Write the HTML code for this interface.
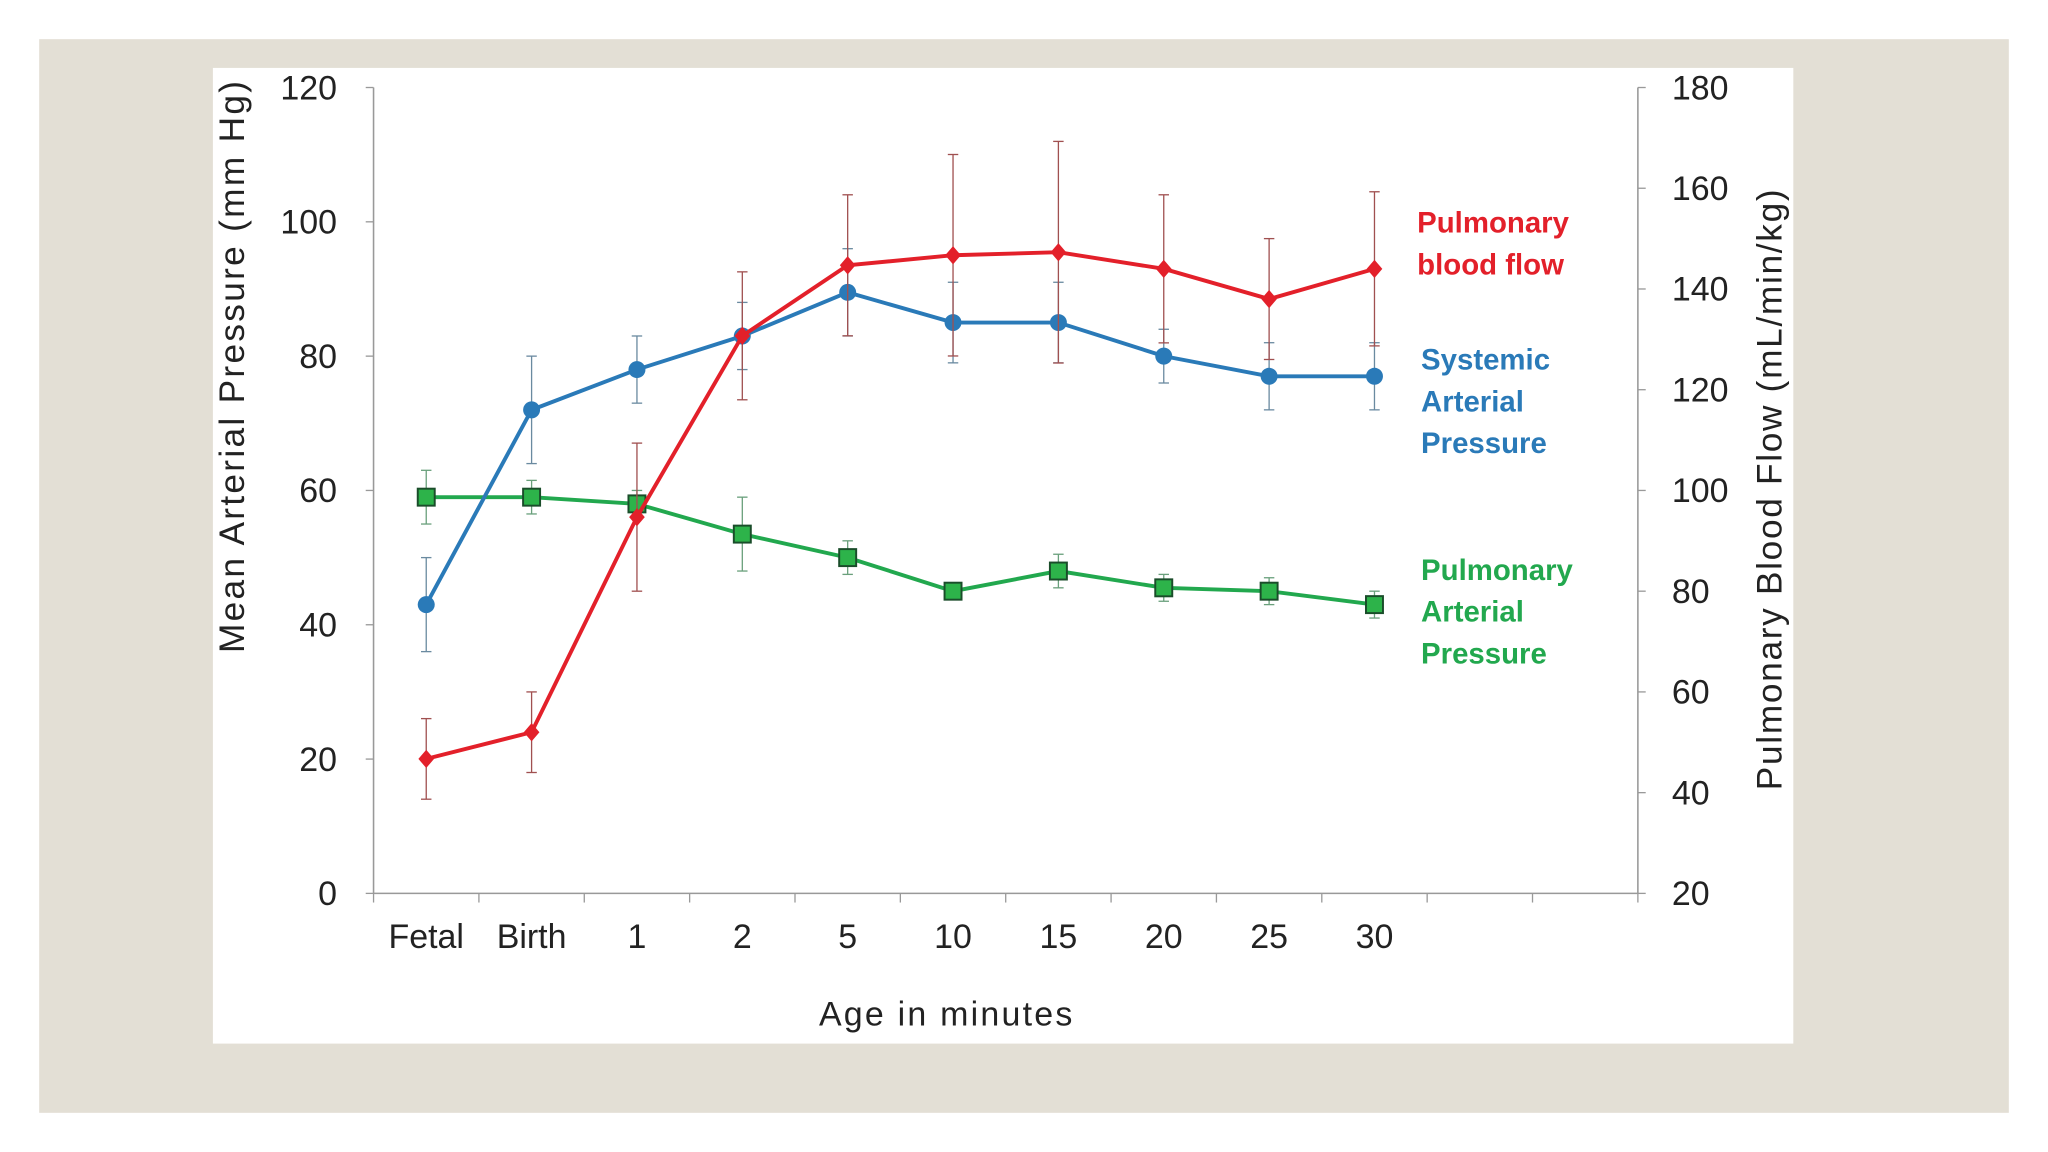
<!DOCTYPE html>
<html><head><meta charset="utf-8"><style>
html,body{margin:0;padding:0;background:#fff;}
svg{display:block;font-family:"Liberation Sans",sans-serif;}
</style></head><body>
<svg id="chart" width="2048" height="1152" viewBox="0 0 1568 882" xmlns="http://www.w3.org/2000/svg">
<rect x="30" y="30" width="1508" height="822" fill="#e3dfd5"/>
<rect x="163" y="52" width="1210" height="747" fill="#ffffff"/>
<g id="axes"></g>
<g id="series"></g>
<text transform="translate(187,281) rotate(-90)" text-anchor="middle" font-size="27" fill="#222" textLength="438" lengthAdjust="spacing">Mean  Arterial Pressure (mm Hg)</text>
<text transform="translate(1364,375) rotate(-90)" text-anchor="middle" font-size="27" fill="#222" textLength="460" lengthAdjust="spacing">Pulmonary  Blood Flow  (mL/min/kg)</text>
<text x="724" y="785" text-anchor="middle" font-size="26" fill="#222" textLength="194" lengthAdjust="spacing">Age in minutes</text>
<g font-size="22.5" font-weight="bold" fill="#e3202a">
<text x="1085" y="178">Pulmonary</text><text x="1085" y="210">blood flow</text></g>
<g font-size="22.5" font-weight="bold" fill="#2a7ab8">
<text x="1088" y="283">Systemic</text><text x="1088" y="315">Arterial</text><text x="1088" y="347">Pressure</text></g>
<g font-size="22.5" font-weight="bold" fill="#22a84e">
<text x="1088" y="444">Pulmonary</text><text x="1088" y="476">Arterial</text><text x="1088" y="508">Pressure</text></g>
</svg>
<script>
const categories=["Fetal","Birth","1","2","5","10","15","20","25","30"];
const leftTicks=[0,20,40,60,80,100,120];
const rightTicks=[20,40,60,80,100,120,140,160,180];
const flowValues=[46.7,52,94.7,130.7,144.7,146.7,147.3,144,138,144];
const flowErr=[8,8,14.7,12.7,14,20,22,14.7,12,15.3];
const sapValues=[43,72,78,83,89.5,85,85,80,77,77];
const sapErr=[7,8,5,5,6.5,6,6,4,5,5];
const papValues=[59,59,58,53.5,50,45,48,45.5,45,43];
const papErr=[4,2.5,2,5.5,2.5,1,2.5,2,2,2];

const NS="http://www.w3.org/2000/svg";
const X0=286,X1=1254,Y0=684,Y1=67,slots=12,sw=(X1-X0)/slots;
const xPos=i=>X0+sw*(i+0.5);
const yL=v=>Y0-(v/120)*(Y0-Y1);
const yR=v=>Y0-((v-20)/160)*(Y0-Y1);
function mk(tag,attrs,parent){const e=document.createElementNS(NS,tag);for(const k in attrs)e.setAttribute(k,attrs[k]);parent.appendChild(e);return e;}
const axes=document.getElementById('axes'),ser=document.getElementById('series');
let l=mk('line',{x1:X0,y1:Y1,x2:X0,y2:Y0,stroke:'#999','stroke-width':1.2},axes);


l=mk('line',{x1:X1,y1:Y1,x2:X1,y2:Y0,stroke:'#999','stroke-width':1.2},axes);


l=mk('line',{x1:X0,y1:Y0,x2:X1,y2:Y0,stroke:'#999','stroke-width':1.2},axes);


leftTicks.forEach(v=>{const y=yL(v);
 mk('line',{x1:X0-6,y1:y,x2:X0,y2:y,stroke:'#999'},axes);
 const t=mk('text',{x:258,y:y+9,'text-anchor':'end','font-size':26,fill:'#222'},axes);t.textContent=v;
 
 });
rightTicks.forEach(v=>{const y=yR(v);
 mk('line',{x1:X1,y1:y,x2:X1+6,y2:y,stroke:'#999'},axes);
 const t=mk('text',{x:1280,y:y+9,'font-size':26,fill:'#222'},axes);t.textContent=v;
 
 });
for(let i=0;i<=slots;i++){const x=X0+sw*i;mk('line',{x1:x,y1:Y0,x2:x,y2:Y0+7,stroke:'#999'},axes);}
categories.forEach((c,i)=>{const t=mk('text',{x:xPos(i),y:726,'text-anchor':'middle','font-size':26,fill:'#222'},axes);t.textContent=c;
 
 });

function series(vals,errs,yf,color,errColor,marker,name){
 const g=mk('g',{},ser);
 
 
 vals.forEach((v,i)=>{const x=xPos(i);
  mk('line',{x1:x,y1:yf(v-errs[i]),x2:x,y2:yf(v+errs[i]),stroke:errColor,'stroke-width':1},g);
  mk('line',{x1:x-4,y1:yf(v-errs[i]),x2:x+4,y2:yf(v-errs[i]),stroke:errColor,'stroke-width':1},g);
  mk('line',{x1:x-4,y1:yf(v+errs[i]),x2:x+4,y2:yf(v+errs[i]),stroke:errColor,'stroke-width':1},g);});
 mk('polyline',{points:vals.map((v,i)=>xPos(i)+','+yf(v)).join(' '),fill:'none',stroke:color,'stroke-width':3},g);
 vals.forEach((v,i)=>{const x=xPos(i),y=yf(v);let m;
  if(marker==='circle')m=mk('circle',{cx:x,cy:y,r:6.5,fill:color},g);
  else if(marker==='diamond')m=mk('polygon',{points:`${x},${y-7} ${x+6},${y} ${x},${y+7} ${x-6},${y}`,fill:color},g);
  else m=mk('rect',{x:x-6.5,y:y-6.5,width:13,height:13,fill:'#2db34a',stroke:'#1a4d2a','stroke-width':1.5},g);
  
  });
}
series(papValues,papErr,yL,'#22a84e','#6aa07c','square','series-pulmonary-arterial-pressure');
series(sapValues,sapErr,yL,'#2a7ab8','#6a8aa0','circle','series-systemic-arterial-pressure');
series(flowValues,flowErr,yR,'#e3202a','#a05050','diamond','series-pulmonary-blood-flow');
</script>
</body></html>
